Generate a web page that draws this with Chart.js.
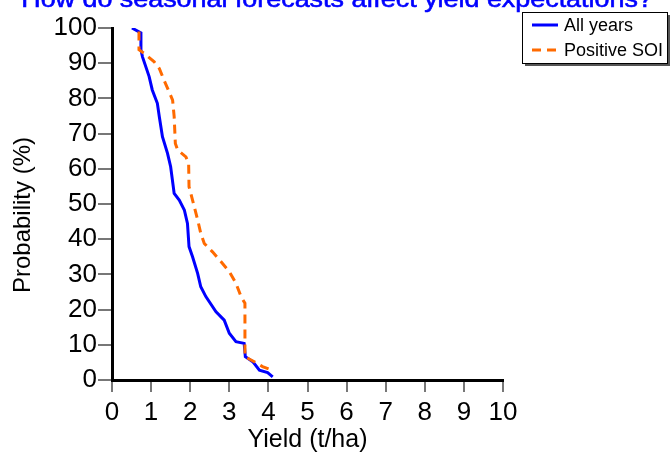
<!DOCTYPE html>
<html>
<head>
<meta charset="utf-8">
<script src="https://cdn.jsdelivr.net/npm/chart.js@4/dist/chart.umd.min.js"></script>
<style>
  html, body { margin: 0; padding: 0; background: #fff; }
  #wrap { width: 672px; height: 455px; }
</style>
</head>
<body>
<div id="wrap"><canvas id="chart"></canvas></div>
<script>
const titleText = 'How do seasonal forecasts affect yield expectations?'
const xTitle = 'Yield (t/ha)'
const yTitle = 'Probability (%)'
const seriesNames = ['All years', 'Positive SOI']
const xTicks = [0, 1, 2, 3, 4, 5, 6, 7, 8, 9, 10]
const yTicks = [0, 10, 20, 30, 40, 50, 60, 70, 80, 90, 100]

// yield (t/ha) vs probability of exceeding (%)
const allX = [0.51, 0.74, 0.74, 0.78, 0.95, 1.03, 1.16, 1.21, 1.29, 1.42, 1.50, 1.59, 1.72, 1.85, 1.93, 1.97, 2.06, 2.19, 2.27, 2.40, 2.66, 2.87, 3.00, 3.17, 3.38, 3.41, 3.60, 3.77, 3.98, 4.11]
const allY = [100, 98.6, 93.8, 91.8, 86.2, 82.4, 78.6, 74.8, 69.1, 64.4, 60.6, 53.0, 51.1, 48.3, 44.5, 37.9, 35.0, 30.3, 26.5, 23.7, 19.4, 17.0, 13.3, 10.9, 10.4, 6.6, 5.2, 2.8, 2.1, 0.9]
const soiX = [0.69, 0.69, 0.82, 1.08, 1.21, 1.33, 1.46, 1.55, 1.59, 1.62, 1.68, 1.89, 1.96, 1.97, 2.06, 2.19, 2.27, 2.36, 2.57, 2.79, 3.00, 3.17, 3.30, 3.40, 3.40, 3.64, 3.85, 4.11]
const soiY = [99, 93.8, 92.8, 90.4, 88.5, 85.2, 81.9, 79.5, 74.8, 67.2, 65.3, 63.4, 61.6, 54.9, 51.1, 45.5, 41.7, 38.8, 36.4, 33.6, 30.8, 27.5, 23.7, 21.8, 6.6, 5.2, 3.8, 2.7]

const FONT = "'Liberation Sans', Arial, sans-serif"

function pts(xs, ys){
    return xs.map((x, i) => ({x: x, y: ys[i]}))
}

// title sits partly above the canvas edge, like the original, plus the rotated y title
const extraText = {
    id: 'extraText',
    afterDraw(chart){
        const ctx = chart.ctx
        ctx.save()
        ctx.font = '24px ' + FONT
        ctx.fillStyle = '#0000ff'
        ctx.strokeStyle = '#0000ff'
        ctx.lineWidth = 0.6
        ctx.textAlign = 'center'
        ctx.textBaseline = 'alphabetic'
        ctx.translate(337, 7)
        ctx.scale(1.12, 1)
        ctx.fillText(titleText, 0, 0)
        ctx.strokeText(titleText, 0, 0)
        ctx.restore()

        ctx.save()
        ctx.font = '24px ' + FONT
        ctx.fillStyle = '#000'
        ctx.textAlign = 'center'
        ctx.textBaseline = 'middle'
        ctx.translate(23, 215)
        ctx.rotate(-Math.PI / 2)
        ctx.fillText(yTitle, 0, 0)
        ctx.restore()
    }
}

// boxed legend with a drop shadow
const boxLegend = {
    id: 'boxLegend',
    afterDraw(chart){
        const ctx = chart.ctx
        const x = 522, y = 12, w = 145, h = 51
        ctx.save()
        ctx.fillStyle = '#555'
        ctx.fillRect(x + 3, y + 3, w, h)
        ctx.fillStyle = '#fff'
        ctx.fillRect(x, y, w, h)
        ctx.strokeStyle = '#000'
        ctx.lineWidth = 1
        ctx.strokeRect(x + 0.5, y + 0.5, w, h)
        ctx.font = '18px ' + FONT
        ctx.textBaseline = 'middle'
        ctx.fillStyle = '#000'
        chart.data.datasets.forEach((ds, i) => {
            const ly = y + 13 + i * 25
            ctx.beginPath()
            ctx.strokeStyle = ds.borderColor
            ctx.lineWidth = 3
            ctx.setLineDash(ds.borderDash || [])
            ctx.moveTo(x + 10, ly)
            ctx.lineTo(x + 36, ly)
            ctx.stroke()
            ctx.setLineDash([])
            ctx.fillText(ds.label, x + 42, ly + 1)
        })
        ctx.restore()
    }
}

new Chart(document.getElementById('chart'), {
    type: 'scatter',
    data: {
      datasets: [{
        label: seriesNames[0],
        data: pts(allX, allY),
        showLine: true,
        borderColor: '#0000ff',
        borderWidth: 3,
        pointRadius: 0,
        order: 1
      }, {
        label: seriesNames[1],
        data: pts(soiX, soiY),
        showLine: true,
        borderColor: '#ff6a00',
        borderWidth: 3,
        borderDash: [9, 6],
        pointRadius: 0,
        order: 0
      }]
    },
    options: {
      responsive: true,
      maintainAspectRatio: false,
      animation: false,
      layout: { padding: { left: 0, top: 28, right: 169, bottom: 0 } },
      plugins: {
        legend: { display: false },
        title: { display: false },
        tooltip: { enabled: false }
      },
      scales: {
        x: {
          type: 'linear',
          min: 0, max: 10,
          afterBuildTicks: s => { s.ticks = xTicks.map(v => ({value: v})) },
          afterFit: s => { s.height = 75 },
          grid: { drawOnChartArea: false, color: '#777', lineWidth: 2, tickLength: 12 },
          border: { color: '#000', width: 3 },
          ticks: { color: '#000', font: { family: FONT, size: 26 }, padding: 5, maxRotation: 0 },
          title: { display: true, text: xTitle, color: '#000', font: { family: FONT, size: 25 }, padding: { top: 0, bottom: 0 } }
        },
        y: {
          min: 0, max: 100,
          afterBuildTicks: s => { s.ticks = yTicks.map(v => ({value: v})) },
          afterFit: s => { s.width = 112 },
          grid: { drawOnChartArea: false, color: '#777', lineWidth: 2, tickLength: 14 },
          border: { color: '#000', width: 3 },
          ticks: { color: '#000', font: { family: FONT, size: 26 }, padding: 1 }
        }
      }
    },
    plugins: [extraText, boxLegend]
});
</script>
</body>
</html>
